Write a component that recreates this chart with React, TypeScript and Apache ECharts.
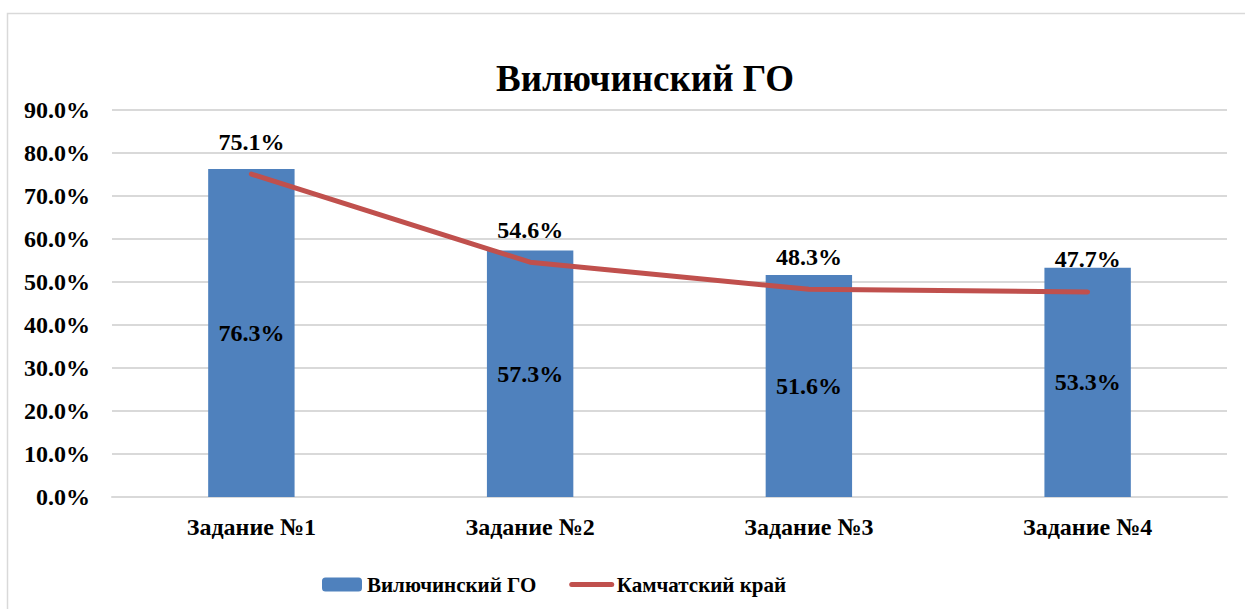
import React, { useEffect, useRef } from "react";
import * as echarts from "echarts";

const categories = ["Задание №1", "Задание №2", "Задание №3", "Задание №4"];
const districtValues = [76.3, 57.3, 51.6, 53.3];
const regionValues = [75.1, 54.6, 48.3, 47.7];
const seriesNames = ["Вилючинский ГО", "Камчатский край"];
const titleText = "Вилючинский ГО";

const FONT = "'Liberation Serif', 'Times New Roman', serif";

export default function App() {
  const ref = useRef<HTMLDivElement>(null);
  useEffect(() => {
    document.body.style.margin = "0";
    const chart = echarts.init(ref.current!, undefined, { renderer: "svg" });
    chart.setOption({
      animation: false,
      backgroundColor: "#ffffff",
      textStyle: { fontFamily: FONT },
      title: {
        text: titleText,
        left: 491,
        top: 55,
        textStyle: { fontFamily: FONT, fontWeight: "bold", fontSize: 37, color: "#000" },
      },
      graphic: [
        {
          type: "rect",
          shape: { x: 7.5, y: 13.5, width: 1260, height: 620 },
          style: { fill: "none", stroke: "#d9d9d9", lineWidth: 1.5 },
          silent: true,
        },
      ],
      grid: { left: 112, right: 18, top: 110, bottom: 112, containLabel: false },
      xAxis: {
        type: "category",
        data: categories,
        axisTick: { show: false },
        axisLine: { lineStyle: { color: "#d9d9d9", width: 2 } },
        axisLabel: { margin: 18, fontFamily: FONT, fontWeight: "bold", fontSize: 24, color: "#000" },
      },
      yAxis: {
        type: "value",
        min: 0,
        max: 90,
        interval: 10,
        axisLine: { show: false },
        axisTick: { show: false },
        splitLine: { lineStyle: { color: "#d9d9d9", width: 2 } },
        axisLabel: {
          margin: 22,
          fontFamily: FONT,
          fontWeight: "bold",
          fontSize: 24,
          color: "#000",
          formatter: (v: number) => v.toFixed(1) + "%",
        },
      },
      legend: {
        bottom: 14,
        left: 322,
        padding: 0,
        itemWidth: 40,
        itemHeight: 14,
        itemGap: 33,
        textStyle: { fontFamily: FONT, fontWeight: "bold", fontSize: 21, color: "#000" },
        data: [
          { name: seriesNames[0] },
          { name: seriesNames[1], itemStyle: { opacity: 0 }, lineStyle: { width: 5, cap: "round" } },
        ],
      },
      series: [
        {
          name: seriesNames[0],
          type: "bar",
          data: districtValues,
          barWidth: "31%",
          itemStyle: { color: "#4F81BD" },
          label: {
            show: true,
            position: "inside",
            fontFamily: FONT,
            fontWeight: "bold",
            fontSize: 24,
            color: "#000",
            formatter: (p: any) => p.value.toFixed(1) + "%",
          },
        },
        {
          name: seriesNames[1],
          type: "line",
          data: regionValues,
          symbol: "circle",
          symbolSize: 1,
          lineStyle: { color: "#C0504D", width: 5, cap: "round" },
          itemStyle: { color: "#C0504D" },
          label: {
            show: true,
            position: "top",
            distance: 20,
            fontFamily: FONT,
            fontWeight: "bold",
            fontSize: 24,
            color: "#000",
            formatter: (p: any) => p.value.toFixed(1) + "%",
          },
        },
      ],
    });
    return () => chart.dispose();
  }, []);
  return <div ref={ref} style={{ width: 1245, height: 609, position: "fixed", left: 0, top: 0 }} />;
}
